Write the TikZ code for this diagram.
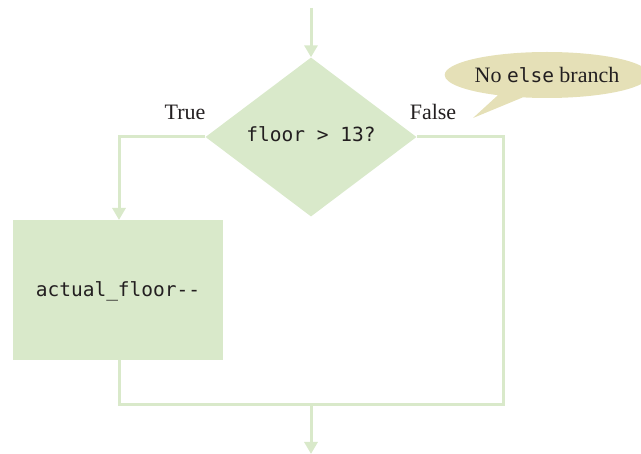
\documentclass[tikz,border=0pt]{standalone}
\usepackage{fontspec}
\setmainfont{Liberation Serif}
\setmonofont{DejaVu Sans Mono}
\usetikzlibrary{arrows.meta,shapes.geometric,shapes.callouts}
\definecolor{flowgreen}{HTML}{D9E9CA}
\definecolor{notekhaki}{HTML}{E5E0B7}
\definecolor{inktext}{HTML}{231F20}
\tikzset{
  flowline/.style={draw=flowgreen, line width=3pt},
  flowarrow/.style={flowline, -{Triangle[width=13pt,length=12pt]}},
  lbl/.style={font=\fontsize{22}{24}\selectfont, inner sep=0pt, text=inktext},
  code/.style={font=\fontsize{19.5}{22}\selectfont\ttfamily, text=inktext}
}
\begin{document}
\begin{tikzpicture}[x=1pt,y=-1pt]
\useasboundingbox (0,0) rectangle (641,454);
% diamond
\node[diamond, fill=flowgreen, inner sep=0pt, minimum width=211pt, minimum height=159pt, aspect=1.33] (cond) at (311,137) {};
\node[code, anchor=base] (condtxt) at (311,142) {floor > 13?};
% box
\node[rectangle, fill=flowgreen, minimum width=210pt, minimum height=140pt, anchor=north west, inner sep=0pt] (act) at (13,220) {};
\node[code, anchor=base] (acttxt) at (118,297) {actual\_floor-{}-};
% coordinates
\coordinate (start) at (311,8);
\coordinate (lcorner) at (119,137);
\coordinate (rcorner) at (503,137);
\coordinate (bl) at (119,405);
\coordinate (br) at (503,405);
\coordinate (join) at (311,405);
\coordinate (end) at (311,454);
% connectors
\draw[flowarrow] (start) -- (cond.north);
\draw[flowarrow] (cond.west) -- (lcorner) -- (act.north -| lcorner);
\draw[flowline] (act.south -| bl) -- (bl) -- (br) -- (rcorner) -- (cond.east);
\draw[flowarrow] (join) -- (end);
% labels
\node[lbl, anchor=base] (truel) at (185,120) {True};
\node[lbl, anchor=base] (falsel) at (433,120) {False};
% callout
\node[ellipse callout, fill=notekhaki, minimum width=182pt, minimum height=46pt, inner sep=0pt,
      callout absolute pointer={(473,118)}, lbl] (note) at (547,75) {No {\fontsize{19.5}{22}\selectfont\ttfamily else} branch};
\end{tikzpicture}
\end{document}
